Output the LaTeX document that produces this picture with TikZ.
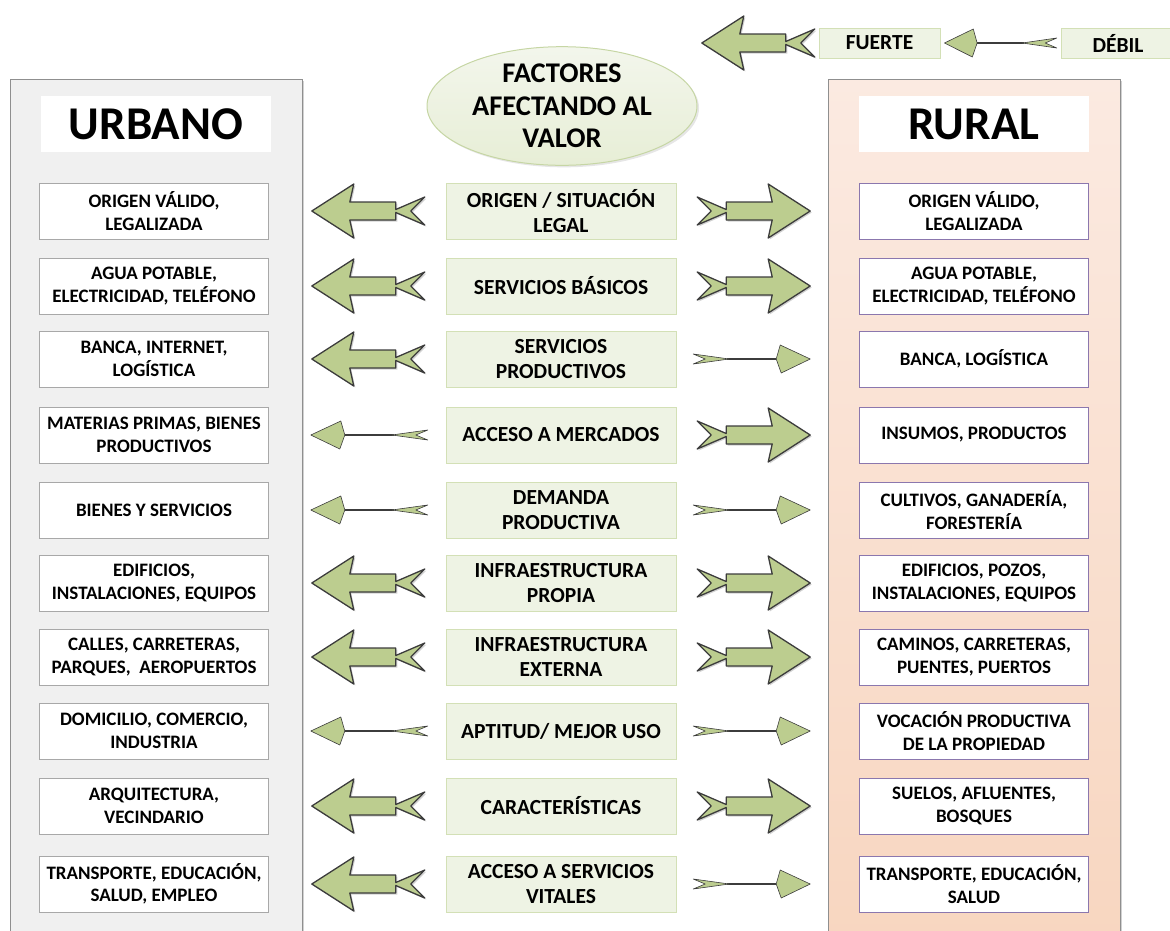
\documentclass[tikz,border=0pt]{standalone}
\usepackage{fontspec}
\setmainfont{Carlito}
\usetikzlibrary{positioning,shapes.geometric,shadows}
\definecolor{arrowgreen}{HTML}{BCCD8F}
\definecolor{arrowline}{HTML}{3C3C3C}
\definecolor{boxgreen}{HTML}{EEF3E4}
\definecolor{boxline}{HTML}{D3E0B6}
\definecolor{urbanfill}{HTML}{F0F0F0}
\definecolor{ruraltop}{HTML}{FBEAE1}
\definecolor{ruralbot}{HTML}{F8D6C0}
\definecolor{panelline}{HTML}{8F8F8F}
\definecolor{grayline}{HTML}{A8A8A8}
\definecolor{purpleline}{HTML}{8B77AE}
\definecolor{ovaltop}{HTML}{F3F6EC}
\definecolor{ovalbot}{HTML}{E7EED6}
\definecolor{ovalline}{HTML}{C6D6A4}
\tikzset{
  shadowed/.style={
    preaction={fill=black!18, transform canvas={xshift=1.5pt, yshift=-1.5pt}}
  },
  cbox/.style={
    draw=boxline, fill=boxgreen, minimum width=230pt, minimum height=56pt,
    align=center, font=\fontsize{21.5}{25.5}\selectfont\bfseries
  },
  ubox/.style={
    draw=grayline, fill=white, minimum width=229pt, minimum height=56pt,
    align=center, font=\fontsize{19}{22.5}\selectfont\bfseries
  },
  rbox/.style={ubox, draw=purpleline},
  titlebox/.style={
    fill=white, minimum width=230pt, minimum height=56pt,
    font=\fontsize{47}{50}\selectfont\bfseries
  },
  keybox/.style={
    draw=boxline, fill=boxgreen, minimum height=30pt,
    font=\fontsize{21.5}{24}\selectfont\bfseries
  },
  strong/.pic={
    \filldraw[fill=arrowgreen, draw=arrowline, line width=1.3pt,
      line join=round, shadowed] (113,0) -- (71,27) -- (75,9) -- (29,9)
      -- (29,1.5) -- (0,14) -- (14,0) -- (0,-14) -- (29,-1.5) -- (29,-9)
      -- (75,-9) -- (71,-27) -- cycle;
  },
  weak/.pic={
    \draw[arrowline, line width=1.2pt] (34,0) -- (83,0);
    \filldraw[fill=arrowgreen, draw=arrowline, line width=0.6pt,
      line join=round] (117,0) -- (87,14) -- (83,0) -- (88,-14) -- cycle;
    \filldraw[fill=arrowgreen, draw=arrowline, line width=0.6pt,
      line join=round] (36,0) -- (0,5) -- (12,0) -- (0,-5) -- cycle;
  }
}

\begin{document}
\begin{tikzpicture}[x=1pt, y=1pt]
  \useasboundingbox (0,0) rectangle (1170,-930);
  \draw[draw=panelline, fill=urbanfill, shadowed] (10,-79) rectangle (302,-945);
  \draw[draw=panelline, top color=ruraltop, bottom color=ruralbot,
    shadowed] (828,-79) rectangle (1120,-945);
  \node[titlebox] (urbano) at (156,-124) {URBANO};
  \node[titlebox] (rural) at (974,-124) {RURAL};
  \node[ellipse, draw=ovalline, top color=ovaltop, bottom color=ovalbot,
    line width=1pt, inner sep=0pt, minimum width=270pt, minimum height=116pt,
    align=center, font=\fontsize{28.5}{32.5}\selectfont\bfseries,
    drop shadow={opacity=0.2, shadow xshift=2pt, shadow yshift=-2pt}]
    (factores) at (562,-106) {FACTORES\\AFECTANDO AL\\VALOR};
  \node[keybox, minimum width=121pt] (fuerte) at (879.5,-43) {FUERTE};
  \node[keybox, minimum width=114pt] (debil) at (1118,-43) {DÉBIL};
  \pic[xscale=-1] at ([xshift=-4pt]fuerte.west) {strong};
  \pic[xscale=-0.96] at ([xshift=-4pt]debil.west) {weak};

  \node[cbox] (c1) at (561,-211) {ORIGEN / SITUACIÓN\\LEGAL};
  \node[cbox, on grid, below=75pt of c1] (c2) {SERVICIOS BÁSICOS};
  \node[cbox, on grid, below=73pt of c2] (c3) {SERVICIOS\\PRODUCTIVOS};
  \node[cbox, on grid, below=76pt of c3] (c4) {ACCESO A MERCADOS};
  \node[cbox, on grid, below=75pt of c4] (c5) {DEMANDA\\PRODUCTIVA};
  \node[cbox, on grid, below=73pt of c5] (c6) {INFRAESTRUCTURA\\PROPIA};
  \node[cbox, on grid, below=74pt of c6] (c7) {INFRAESTRUCTURA\\EXTERNA};
  \node[cbox, on grid, below=74pt of c7] (c8) {APTITUD/ MEJOR USO};
  \node[cbox, on grid, below=75pt of c8] (c9) {CARACTERÍSTICAS};
  \node[cbox, on grid, below=78pt of c9] (c10) {ACCESO A SERVICIOS\\VITALES};

  \node[ubox, on grid, left=407pt of c1] (u1) {ORIGEN VÁLIDO,\\LEGALIZADA};
  \node[ubox, on grid, left=407pt of c2] (u2) {AGUA POTABLE,\\ELECTRICIDAD, TELÉFONO};
  \node[ubox, on grid, left=407pt of c3] (u3) {BANCA, INTERNET,\\LOGÍSTICA};
  \node[ubox, on grid, left=407pt of c4] (u4) {MATERIAS PRIMAS, BIENES\\PRODUCTIVOS};
  \node[ubox, on grid, left=407pt of c5] (u5) {BIENES Y SERVICIOS};
  \node[ubox, on grid, left=407pt of c6] (u6) {EDIFICIOS,\\INSTALACIONES, EQUIPOS};
  \node[ubox, on grid, left=407pt of c7] (u7) {CALLES, CARRETERAS,\\PARQUES,\ \ AEROPUERTOS};
  \node[ubox, on grid, left=407pt of c8] (u8) {DOMICILIO, COMERCIO,\\INDUSTRIA};
  \node[ubox, on grid, left=407pt of c9] (u9) {ARQUITECTURA,\\VECINDARIO};
  \node[ubox, on grid, left=407pt of c10] (u10) {TRANSPORTE, EDUCACIÓN,\\SALUD, EMPLEO};

  \node[rbox, on grid, right=413pt of c1] (r1) {ORIGEN VÁLIDO,\\LEGALIZADA};
  \node[rbox, on grid, right=413pt of c2] (r2) {AGUA POTABLE,\\ELECTRICIDAD, TELÉFONO};
  \node[rbox, on grid, right=413pt of c3] (r3) {BANCA, LOGÍSTICA};
  \node[rbox, on grid, right=413pt of c4] (r4) {INSUMOS, PRODUCTOS};
  \node[rbox, on grid, right=413pt of c5] (r5) {CULTIVOS, GANADERÍA,\\FORESTERÍA};
  \node[rbox, on grid, right=413pt of c6] (r6) {EDIFICIOS, POZOS,\\INSTALACIONES, EQUIPOS};
  \node[rbox, on grid, right=413pt of c7] (r7) {CAMINOS, CARRETERAS,\\PUENTES, PUERTOS};
  \node[rbox, on grid, right=413pt of c8] (r8) {VOCACIÓN PRODUCTIVA\\DE LA PROPIEDAD};
  \node[rbox, on grid, right=413pt of c9] (r9) {SUELOS, AFLUENTES,\\BOSQUES};
  \node[rbox, on grid, right=413pt of c10] (r10) {TRANSPORTE, EDUCACIÓN,\\SALUD};

  \pic[xscale=-1] at ([xshift=-21pt]c1.west) {strong};
  \pic at ([xshift=21pt]c1.east) {strong};
  \pic[xscale=-1] at ([xshift=-21pt]c2.west) {strong};
  \pic at ([xshift=21pt]c2.east) {strong};
  \pic[xscale=-1] at ([xshift=-21pt]c3.west) {strong};
  \pic at ([xshift=17pt]c3.east) {weak};
  \pic[xscale=-1] at ([xshift=-18pt]c4.west) {weak};
  \pic at ([xshift=21pt]c4.east) {strong};
  \pic[xscale=-1] at ([xshift=-18pt]c5.west) {weak};
  \pic at ([xshift=17pt]c5.east) {weak};
  \pic[xscale=-1] at ([xshift=-21pt]c6.west) {strong};
  \pic at ([xshift=21pt]c6.east) {strong};
  \pic[xscale=-1] at ([xshift=-21pt]c7.west) {strong};
  \pic at ([xshift=21pt]c7.east) {strong};
  \pic[xscale=-1] at ([xshift=-18pt]c8.west) {weak};
  \pic at ([xshift=17pt]c8.east) {weak};
  \pic[xscale=-1] at ([xshift=-21pt]c9.west) {strong};
  \pic at ([xshift=21pt]c9.east) {strong};
  \pic[xscale=-1] at ([xshift=-21pt]c10.west) {strong};
  \pic at ([xshift=17pt]c10.east) {weak};
\end{tikzpicture}
\end{document}
